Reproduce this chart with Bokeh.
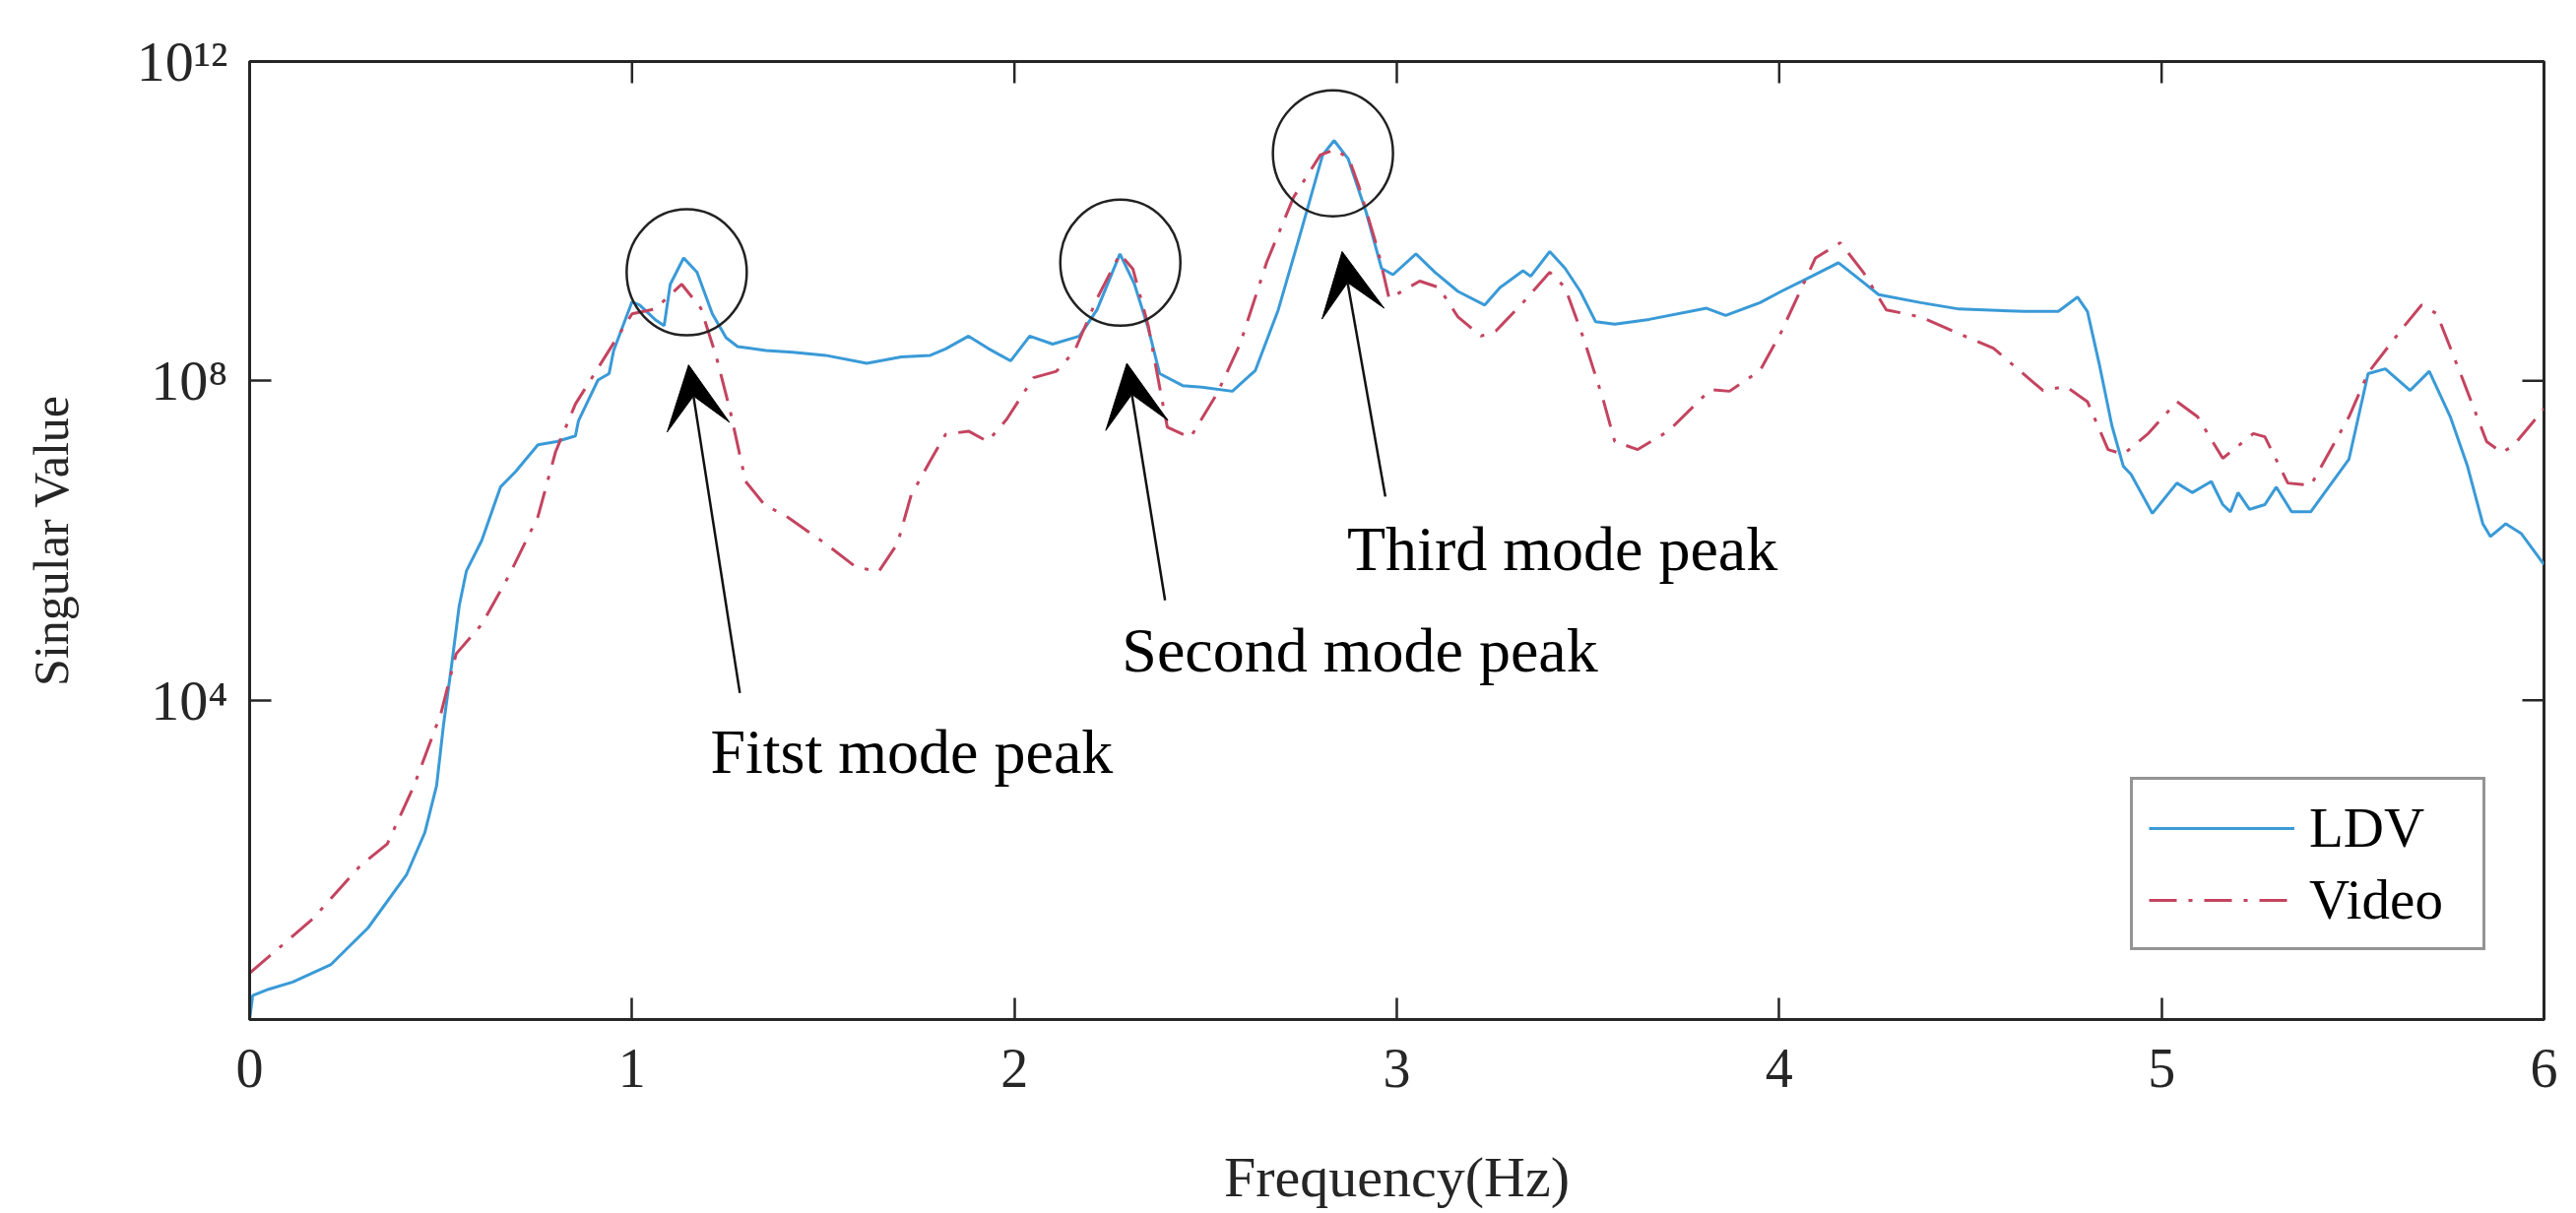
import math
from bokeh.plotting import figure
from bokeh.models import (Range1d, FixedTicker, Arrow, VeeHead, Legend, LegendItem)
from bokeh.core.properties import value
from bokeh.embed import file_html
from bokeh.resources import INLINE

# ---------------- data ----------------
ldv_freq = [0.000, 0.008, 0.05, 0.113, 0.213, 0.31, 0.41, 0.458, 0.489, 0.507, 0.528, 0.548,
            0.567, 0.607, 0.656, 0.695, 0.754, 0.803, 0.852, 0.86, 0.911, 0.94, 0.952, 1.00,
            1.02, 1.06, 1.084, 1.10, 1.135, 1.17, 1.21, 1.246, 1.276, 1.35, 1.42, 1.506,
            1.614, 1.704, 1.78, 1.82, 1.88, 1.93, 1.99, 2.04, 2.10, 2.17, 2.216, 2.276,
            2.314, 2.35, 2.38, 2.44, 2.49, 2.57, 2.63, 2.69, 2.75, 2.806, 2.836, 2.873,
            2.92, 2.96, 2.99, 3.05, 3.10, 3.16, 3.23, 3.27, 3.33, 3.35, 3.40, 3.44, 3.48,
            3.52, 3.57, 3.66, 3.81, 3.86, 3.95, 4.005, 4.085, 4.155, 4.20, 4.26, 4.37,
            4.47, 4.64, 4.73, 4.78, 4.806, 4.837, 4.87, 4.90, 4.92, 4.976, 5.04, 5.08,
            5.13, 5.16, 5.18, 5.20, 5.23, 5.27, 5.30, 5.34, 5.39, 5.49, 5.54, 5.585,
            5.65, 5.70, 5.755, 5.80, 5.84, 5.86, 5.90, 5.94, 6.00]
ldv_log10 = [0.00, 0.30, 0.38, 0.47, 0.69, 1.15, 1.81, 2.34, 2.93, 3.69, 4.43, 5.18,
             5.62, 6.00, 6.67, 6.86, 7.20, 7.24, 7.31, 7.50, 8.01, 8.09, 8.38, 8.99,
             8.95, 8.77, 8.69, 9.21, 9.54, 9.36, 8.84, 8.54, 8.43, 8.38, 8.36, 8.32,
             8.22, 8.30, 8.32, 8.40, 8.56, 8.41, 8.25, 8.56, 8.46, 8.56, 8.89, 9.59,
             9.21, 8.66, 8.09, 7.94, 7.92, 7.87, 8.13, 8.89, 9.88, 10.83, 11.01, 10.78,
             10.11, 9.41, 9.33, 9.59, 9.36, 9.12, 8.95, 9.17, 9.38, 9.31, 9.62, 9.41, 9.12,
             8.74, 8.71, 8.77, 8.91, 8.82, 8.98, 9.12, 9.31, 9.48, 9.31, 9.08, 8.98,
             8.90, 8.87, 8.87, 9.05, 8.87, 8.21, 7.44, 6.93, 6.83, 6.34, 6.72, 6.60,
             6.74, 6.45, 6.36, 6.60, 6.39, 6.45, 6.67, 6.36, 6.36, 7.02, 8.09, 8.15,
             7.88, 8.12, 7.55, 6.93, 6.21, 6.05, 6.21, 6.09, 5.70]

video_freq = [0.000, 0.165, 0.29, 0.36, 0.43, 0.50, 0.54, 0.607, 0.677, 0.754, 0.80, 0.852,
              0.911, 1.00, 1.06, 1.13, 1.18, 1.22, 1.256, 1.297, 1.346, 1.408, 1.506, 1.585,
              1.645, 1.694, 1.73, 1.78, 1.82, 1.88, 1.93, 1.98, 2.05, 2.11, 2.157, 2.216,
              2.276, 2.31, 2.35, 2.39, 2.40, 2.46, 2.53, 2.59, 2.66, 2.73, 2.80, 2.84,
              2.875, 2.90, 2.95, 2.98, 3.06, 3.11, 3.16, 3.22, 3.26, 3.33, 3.40, 3.44,
              3.49, 3.54, 3.57, 3.63, 3.71, 3.82, 3.87, 3.95, 4.005, 4.095, 4.16, 4.22,
              4.28, 4.37, 4.47, 4.56, 4.66, 4.69, 4.75, 4.806, 4.86, 4.90, 4.965, 5.04,
              5.094, 5.16, 5.24, 5.27, 5.33, 5.39, 5.49, 5.54, 5.63, 5.68, 5.72, 5.785,
              5.85, 5.89, 5.92, 6.00]
video_log10 = [0.58, 1.26, 1.93, 2.20, 2.93, 3.83, 4.58, 4.95, 5.55, 6.30, 7.11, 7.71,
               8.16, 8.84, 8.90, 9.21, 8.91, 8.31, 7.64, 6.74, 6.45, 6.29, 5.96, 5.67,
               5.61, 5.96, 6.57, 7.00, 7.33, 7.37, 7.24, 7.52, 8.04, 8.12, 8.37, 9.03,
               9.59, 9.40, 8.69, 7.66, 7.42, 7.29, 7.84, 8.46, 9.49, 10.30, 10.83, 10.90,
               10.78, 10.45, 9.65, 9.03, 9.25, 9.17, 8.80, 8.56, 8.63, 8.98, 9.36, 9.17,
               8.51, 7.76, 7.24, 7.14, 7.37, 7.89, 7.87, 8.13, 8.61, 9.54, 9.73, 9.36,
               8.89, 8.80, 8.59, 8.41, 8.00, 7.88, 7.93, 7.74, 7.14, 7.08, 7.34, 7.74,
               7.55, 7.03, 7.34, 7.30, 6.72, 6.69, 7.55, 8.10, 8.66, 8.95, 8.84, 8.05,
               7.24, 7.10, 7.19, 7.65]

series_names = ["LDV", "Video"]

x_ticks = [0, 1, 2, 3, 4, 5, 6]
y_ticks = [1e4, 1e8, 1e12]
y_tick_labels = ["10\u2074", "10\u2078", "10\u00b9\u00b2"]
x_lim = (0, 6)
y_lim = (1, 1e12)

# mode peaks (circle centres) and annotation texts
peak_freq = [1.143, 2.277, 2.833]
peak_log10 = [9.36, 9.48, 10.85]
note_texts = ["Fitst mode peak", "Second mode peak", "Third mode peak"]
note_freq = [1.205, 2.281, 2.870]
note_log10 = [3.35, 4.62, 5.89]
arrow_tip_freq = [1.148, 2.294, 2.857]
arrow_tip_log10 = [8.20, 8.22, 9.62]
arrow_tail_freq = [1.282, 2.394, 2.970]
arrow_tail_log10 = [4.09, 5.25, 6.55]

# ---------------- figure ----------------
FONT = "Liberation Serif"
AX = "#262626"
BLUE = "#3A9AD7"
RED = "#C4445F"

p = figure(frame_width=2330, frame_height=973,
           x_range=Range1d(*x_lim), y_range=Range1d(*y_lim), y_axis_type="log",
           output_backend="svg", toolbar_location=None,
           min_border_left=253, min_border_right=25, min_border_top=62, min_border_bottom=20)
p.grid.visible = False
p.outline_line_color = AX
p.outline_line_width = 3
p.background_fill_color = "white"
p.border_fill_color = "white"

r_ldv = p.line(ldv_freq, [10 ** v for v in ldv_log10], line_color=BLUE, line_width=3)
r_vid = p.line(video_freq, [10 ** v for v in video_log10], line_color=RED, line_width=3,
               line_dash="28 12 4 12")

# mirrored inward ticks on the top and right edges of the box (clipped to the frame)
p.scatter(x=x_ticks, y=[y_lim[1]] * len(x_ticks), marker="dash", angle=math.pi / 2,
          size=44, line_color=AX, line_width=2.5)
p.scatter(x=[x_lim[1]] * len(y_ticks), y=y_ticks, marker="dash",
          size=44, line_color=AX, line_width=2.5)

# circles around peaks
p.ellipse(x=peak_freq, y=[10 ** v for v in peak_log10], width=122, height=128,
          width_units="screen", height_units="screen",
          fill_color=None, line_color="#222222", line_width=2.5)

# arrows
for i in range(3):
    p.add_layout(Arrow(x_start=arrow_tail_freq[i], y_start=10 ** arrow_tail_log10[i],
                       x_end=arrow_tip_freq[i], y_end=10 ** arrow_tip_log10[i],
                       line_color="#111111", line_width=2.5,
                       end=VeeHead(size=64, fill_color="black", line_color="black")))

# annotation texts
p.text(x=note_freq, y=[10 ** v for v in note_log10], text=note_texts,
       text_font=value(FONT), text_font_size="64px", text_color="black",
       text_baseline="alphabetic", text_align="left")

# axes styling
def style_axis(ax):
    ax.axis_line_color = AX
    ax.axis_line_width = 3
    ax.major_tick_line_color = AX
    ax.major_tick_line_width = 2.5
    ax.major_tick_in = 22
    ax.major_tick_out = 0
    ax.minor_tick_in = 0
    ax.minor_tick_out = 0
    ax.major_label_text_font = FONT
    ax.major_label_text_color = AX
    ax.axis_label_text_font = FONT
    ax.axis_label_text_color = AX
    ax.axis_label_text_font_style = "normal"

xa = p.xaxis[0]
style_axis(xa)
xa.ticker = FixedTicker(ticks=x_ticks)
xa.major_label_text_font_size = "56px"
xa.major_label_standoff = 30
xa.axis_label = "Frequency(Hz)"
xa.axis_label_text_font_size = "58px"
xa.axis_label_standoff = 56

ya = p.yaxis[0]
style_axis(ya)
ya.ticker = FixedTicker(ticks=y_ticks, minor_ticks=[])
ya.major_label_overrides = dict(zip(y_ticks, y_tick_labels))
ya.major_label_text_font_size = "58px"
ya.major_label_standoff = 22
ya.axis_label = "Singular Value"
ya.axis_label_text_font_size = "50px"
ya.axis_label_standoff = 56

legend = Legend(items=[LegendItem(label=series_names[0], renderers=[r_ldv]),
                       LegendItem(label=series_names[1], renderers=[r_vid])],
                location=(1910, 70))
legend.label_text_font = FONT
legend.label_text_font_size = "57px"
legend.label_text_color = "black"
legend.border_line_color = "#2a2a2a"
legend.border_line_width = 3
legend.background_fill_color = "white"
legend.background_fill_alpha = 1
legend.padding = 16
legend.spacing = 8
legend.glyph_width = 148
legend.glyph_height = 40
legend.label_standoff = 15
legend.label_width = 160
legend.margin = 0
p.add_layout(legend, "center")

open("out.html", "w").write(file_html(p, INLINE))
